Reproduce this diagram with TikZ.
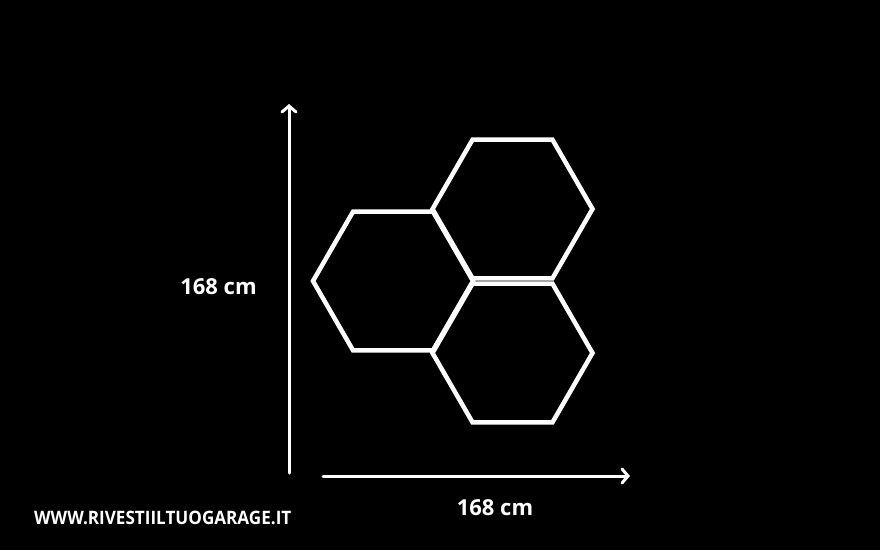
\documentclass[tikz,border=0pt]{standalone}
\usepackage{fontspec}
\setmainfont{Open Sans}
\usetikzlibrary{shapes.geometric,arrows.meta}
\tikzset{
	hexa/.style={regular polygon,regular polygon sides=6,minimum size=160pt,inner sep=0pt,draw=white,line width=4.5pt},
	measure/.style={draw=white,line width=3pt,line cap=round,-{Straight Barb[length=6pt,width=14pt,line cap=round]}},
	label/.style={text=white,font=\bfseries\fontsize{22}{25}\selectfont,inner sep=0pt}
}
\begin{document}
\begin{tikzpicture}[x=1pt,y=-1pt]
		\fill[black] (0,0) rectangle (880,550);
		\useasboundingbox (0,0) rectangle (880,550);

		\node[hexa] (h1)at(393,281){};
		\node[hexa] (h2)at(512.5,209){};
		\node[hexa] (h3)at(512.5,353){};

		\coordinate (v0)at(289,473);
		\coordinate (v1)at(289,104);
		\coordinate (w0)at(323,476);
		\coordinate (w1)at(630,476);
		\draw [measure] (v0) -- (v1);
		\draw [measure] (w0) -- (w1);

		\node[label] (hl)at(218.5,287){168 cm};
		\node[label] (wl)at(495,508){168 cm};
		\node[label,font=\bfseries\fontsize{18.5}{22}\selectfont,anchor=west] (url)at(34,518){\scalebox{0.925}[1]{WWW.RIVESTIILTUOGARAGE.IT}};
	\end{tikzpicture}
\end{document}
